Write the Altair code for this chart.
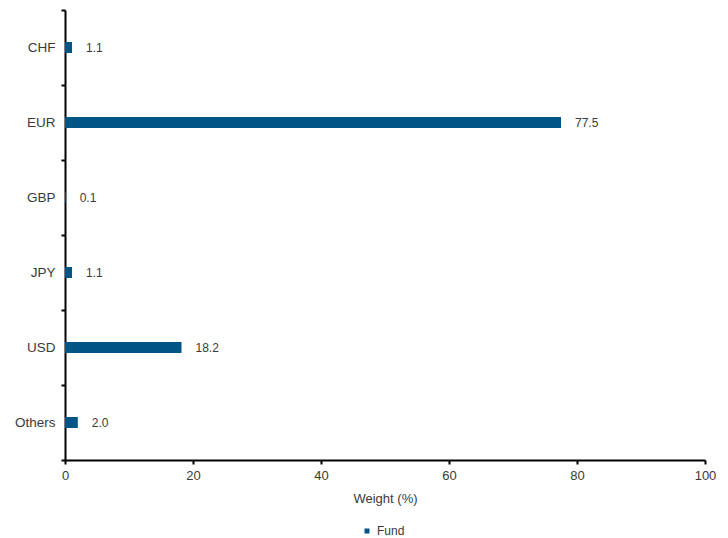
import altair as alt
import pandas as pd

categories = ["CHF", "EUR", "GBP", "JPY", "USD", "Others"]
weights = [1.1, 77.5, 0.1, 1.1, 18.2, 2.0]
labels = ["1.1", "77.5", "0.1", "1.1", "18.2", "2.0"]
series = ["Fund"] * len(categories)

df = pd.DataFrame({"cat": categories, "w": weights, "lab": labels, "s": series})

BAR = "#005587"
TXT = "#3a3a3a"
FONT = "Liberation Sans"

y = alt.Y("cat:N", sort=categories,
          scale=alt.Scale(paddingInner=0, paddingOuter=0),
          axis=alt.Axis(title=None, tickBand="extent", domainColor="#000", domainWidth=2,
                        tickColor="#000", tickWidth=2, tickSize=4, labelPadding=6,
                        labelFont=FONT, labelFontSize=13.5, labelColor=TXT))

x = alt.X("w:Q", scale=alt.Scale(domain=[0, 100]),
          axis=alt.Axis(values=[0, 20, 40, 60, 80, 100], title="Weight (%)",
                        grid=False, domainColor="#000", domainWidth=2, domainOpacity=1,
                        tickColor="#000", tickWidth=2, tickSize=4, labelPadding=5,
                        labelFlush=False,
                        labelFont=FONT, labelFontSize=13, labelColor=TXT,
                        titleFont=FONT, titleFontSize=13, titleColor=TXT,
                        titleFontWeight="normal", titlePadding=10))

bars = alt.Chart(df).mark_bar(size=11).encode(
    x=x,
    y=y,
    color=alt.Color("s:N", scale=alt.Scale(range=[BAR]),
                    legend=alt.Legend(title=None, orient="none", legendX=296, legendY=515,
                                      symbolType="square", symbolSize=25,
                                      labelFont=FONT, labelFontSize=12, labelColor=TXT,
                                      symbolStrokeWidth=0)),
)

text = alt.Chart(df).mark_text(align="left", dx=14, font=FONT, fontSize=12, color=TXT).encode(
    x=x, y=y, text="lab:N")

chart = (bars + text).properties(
    width=640, height=450,
    autosize=alt.AutoSizeParams(type="none"),
    padding={"left": 57, "top": 2, "right": 15, "bottom": 90},
).configure_view(stroke=None)

chart.save("out.html", embed_options={"renderer": "svg", "actions": False})
